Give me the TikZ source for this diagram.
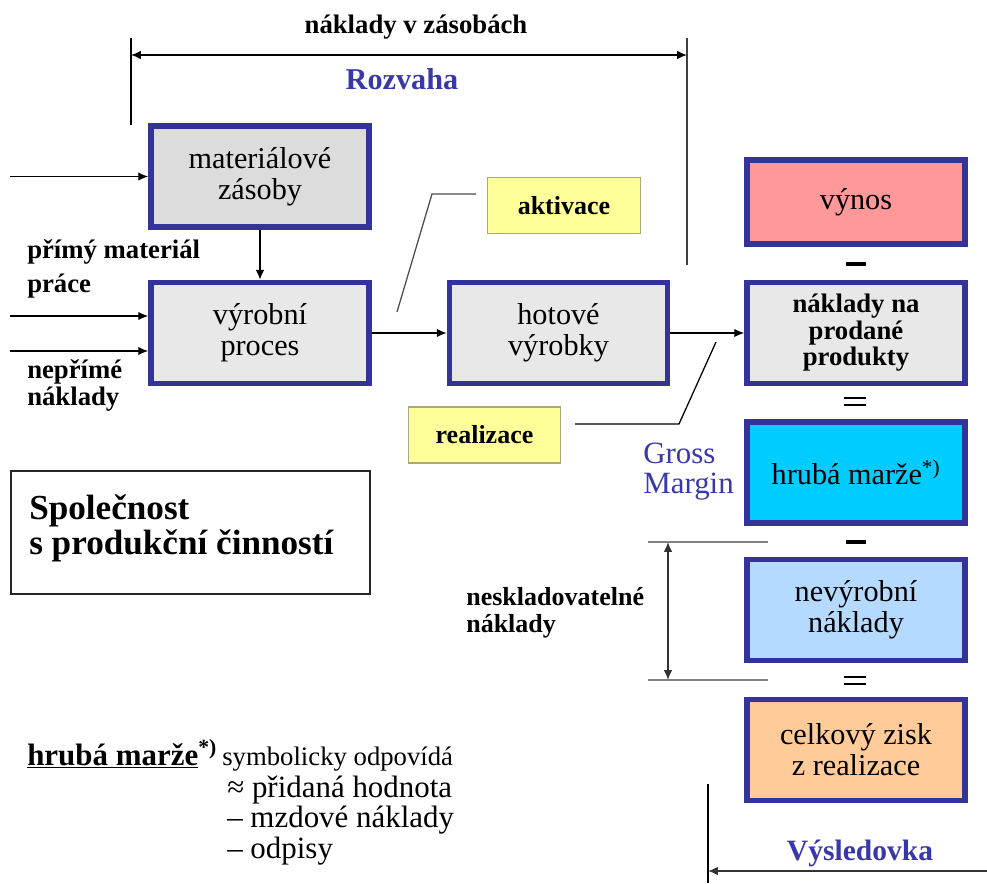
\documentclass[tikz,border=0pt]{standalone}
\usepackage{fontspec}
\setmainfont{Liberation Serif}
\usetikzlibrary{arrows.meta, positioning, calc}
\definecolor{frameblue}{HTML}{333399}
\definecolor{stockgray}{HTML}{DCDCDC}
\definecolor{flowgray}{HTML}{E8E8E8}
\definecolor{revenuepink}{HTML}{FF9999}
\definecolor{margincyan}{HTML}{00CCFF}
\definecolor{costblue}{HTML}{B5DAFF}
\definecolor{profitpeach}{HTML}{FFCC99}
\definecolor{noteyellow}{HTML}{FFFF99}
\definecolor{noteedge}{HTML}{A8A878}
\definecolor{labelblue}{HTML}{3838A8}
\definecolor{rulegray}{HTML}{808080}

\begin{document}
\begin{tikzpicture}[x=0.025cm, y=-0.025cm,
  flowbox/.style={draw=frameblue, line width=4pt, minimum width=5.45cm, minimum height=2.52cm,
    align=center, inner sep=0pt, font=\fontsize{21.5}{22}\selectfont},
  notebox/.style={draw=noteedge, line width=0.8pt, fill=noteyellow, minimum width=3.82cm,
    minimum height=1.4cm, inner sep=0pt, font=\fontsize{18.5}{19}\selectfont\bfseries},
  lbl/.style={anchor=base west, inner sep=0pt, font=\fontsize{19}{19}\selectfont\bfseries},
  flow/.style={-{Latex[length=7pt,width=6pt]}, line width=0.9pt},
  dimline/.style={{Latex[length=7pt,width=6pt]}-{Latex[length=7pt,width=6pt]}, line width=0.9pt},
  sign/.style={line width=2.8pt}]
  \useasboundingbox (0,0) rectangle (987,883);

  % Balance sheet span on top
  \coordinate (balL) at (131,55);
  \coordinate (balR) at (687,55);
  \draw[line width=0.9pt] (131,38) -- (131,125);
  \draw[line width=0.9pt, black!75] (687,38) -- (687,265);
  \draw[dimline] (balL) -- (balR);
  \node[anchor=base, inner sep=0pt, font=\fontsize{19}{19}\selectfont\bfseries] at (416,33) {náklady v zásobách};
  \node[anchor=base, inner sep=0pt, text=labelblue, font=\fontsize{21.5}{22}\selectfont\bfseries] at (402,89) {Rozvaha};

  % Production flow
  \node[flowbox, fill=stockgray] (stock) at (260,176.5) {materiálové\\zásoby};
  \node[flowbox, fill=flowgray] (proc) at (260,333) {výrobní\\proces};
  \node[flowbox, fill=flowgray] (goods) at (558.5,333) {hotové\\výrobky};

  \coordinate (inStock) at (10,176.5);
  \coordinate (inLabour) at (10,316);
  \coordinate (inOverhead) at (10,351);
  \draw[flow] (inStock) -- (stock.west);
  \draw[flow] (inLabour) -- (inLabour -| proc.west);
  \draw[flow] (inOverhead) -- (inOverhead -| proc.west);
  \draw[flow] (stock) -- (proc);
  \draw[flow] (proc) -- (goods);

  \node[lbl] at (27,258) {přímý materiál};
  \node[lbl] at (27,292) {práce};
  \node[lbl] at (27,378) {nepřímé};
  \node[lbl] at (27,405) {náklady};

  % Activation and sale notes
  \node[notebox] (activ) at (564,205.5) {aktivace};
  \node[notebox] (sale) at (484.5,435) {realizace};
  \coordinate (activTail) at (397,312);
  \coordinate (activKnee) at (432,194);
  \coordinate (activEnd) at (476,194);
  \draw[line width=0.9pt, black!70] (activTail) -- (activKnee) -- (activEnd);
  \coordinate (saleStart) at (575,424);
  \coordinate (saleKnee) at (679,424);
  \coordinate (saleTail) at (716,342);
  \draw[line width=0.9pt] (saleStart) -- (saleKnee) -- (saleTail);

  % Income statement column
  \node[flowbox, fill=revenuepink, minimum height=2.11cm] (rev) at (856,202) {výnos};
  \node[flowbox, fill=flowgray, font=\fontsize{19}{18.9}\selectfont\bfseries] (cogs) at (856,333) {náklady na\\prodané\\produkty};
  \node[flowbox, fill=margincyan] (gross) at (856,472.5) {hrubá marže\textsuperscript{*)}};
  \node[flowbox, fill=costblue] (nonprod) at (856,610) {nevýrobní\\náklady};
  \node[flowbox, fill=profitpeach] (profit) at (856,750) {celkový zisk\\z realizace};
  \draw[flow] (goods) -- (cogs);

  % Minus and equals signs
  \draw[sign] (846,264) -- (866,264);
  \draw[line width=1.1pt] (844,398) -- (866,398);
  \draw[line width=1.1pt] (844,405) -- (866,405);
  \draw[sign] (846,542) -- (866,542);
  \draw[line width=1.1pt] (844,677) -- (866,677);
  \draw[line width=1.1pt] (844,684) -- (866,684);

  \node[anchor=base west, inner sep=0pt, text=labelblue, font=\fontsize{22}{22}\selectfont] at (643,463) {Gross};
  \node[anchor=base west, inner sep=0pt, text=labelblue, font=\fontsize{22}{22}\selectfont] at (643,493) {Margin};

  % Non-inventoriable costs span
  \coordinate (nsTop) at (668,542);
  \coordinate (nsBot) at (668,680);
  \draw[line width=1.2pt, rulegray] (648,542) -- (768,542);
  \draw[line width=1.2pt, rulegray] (648,680) -- (768,680);
  \draw[dimline, black!80] (nsTop) -- (nsBot);
  \node[lbl, font=\fontsize{18.5}{18.5}\selectfont\bfseries] at (466,605) {neskladovatelné};
  \node[lbl, font=\fontsize{18.5}{18.5}\selectfont\bfseries] at (466,632) {náklady};

  % Company type box
  \draw[line width=1pt, black!85] (11,471) rectangle (370,594);
  \node[lbl, font=\fontsize{25}{25}\selectfont\bfseries] at (29,519) {Společnost};
  \node[lbl, font=\fontsize{25}{25}\selectfont\bfseries] at (29,554) {s produkční činností};

  % Footnote on gross margin
  \node[lbl, font=\fontsize{22}{22}\selectfont\bfseries] at (27,765) {\underline{hrubá marže}\textsuperscript{*)}};
  \node[lbl, font=\fontsize{19}{19}\selectfont] at (222,765) {symbolicky odpovídá};
  \node[lbl, font=\fontsize{22}{22}\selectfont] at (227,797) {≈ přidaná hodnota};
  \node[lbl, font=\fontsize{22}{22}\selectfont] at (227,827) {– mzdové náklady};
  \node[lbl, font=\fontsize{22}{22}\selectfont] at (227,858) {– odpisy};

  % Income statement span at the bottom
  \coordinate (isR) at (987,871);
  \coordinate (isL) at (708,871);
  \draw[line width=0.9pt] (708,784) -- (708,883);
  \draw[flow, black!80] (isR) -- (isL);
  \node[anchor=base, inner sep=0pt, text=labelblue, font=\fontsize{21}{21}\selectfont\bfseries] at (860,860) {Výsledovka};
\end{tikzpicture}
\end{document}
